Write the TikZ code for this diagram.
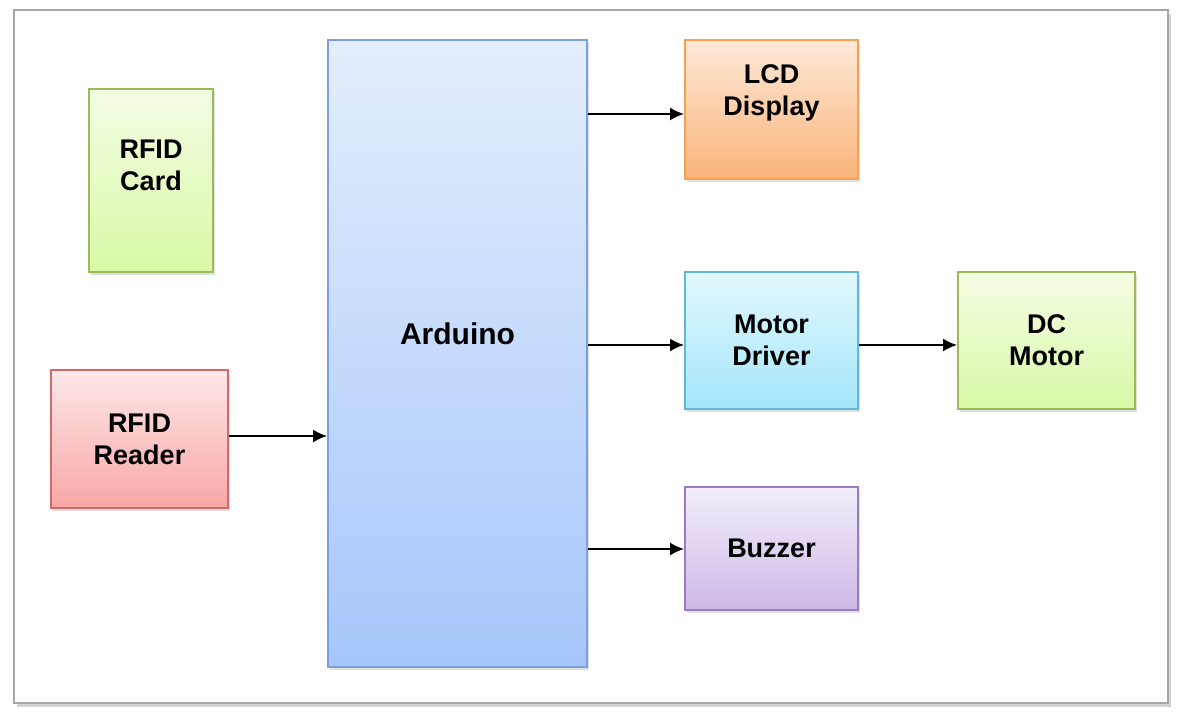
\documentclass[tikz,border=0pt]{standalone}
\usepackage{fontspec}
\setmainfont{Liberation Sans}
\usetikzlibrary{shapes.geometric, arrows, arrows.meta, shadows}

\definecolor{grnline}{HTML}{9BBB59}
\definecolor{grntop}{HTML}{F4FDE4}
\definecolor{grnbot}{HTML}{D9F8A6}
\definecolor{redline}{HTML}{D06A6A}
\definecolor{redtop}{HTML}{FDE8E8}
\definecolor{redbot}{HTML}{F8A6A6}
\definecolor{bluline}{HTML}{7BA0DA}
\definecolor{blutop}{HTML}{E4EEFC}
\definecolor{blubot}{HTML}{A6C6FA}
\definecolor{orgline}{HTML}{F7A050}
\definecolor{orgtop}{HTML}{FDE9D8}
\definecolor{orgbot}{HTML}{FAB47A}
\definecolor{cyaline}{HTML}{5EB8D6}
\definecolor{cyatop}{HTML}{E2F8FE}
\definecolor{cyabot}{HTML}{A4E6FA}
\definecolor{purline}{HTML}{9A7CC0}
\definecolor{purtop}{HTML}{F3EEFA}
\definecolor{purbot}{HTML}{CDB8E6}

\tikzset{
  block/.style={rectangle, draw, line width=1pt, align=center,
    font=\fontsize{13.5}{16}\selectfont\bfseries,
    drop shadow={shadow xshift=1.2pt, shadow yshift=-1.5pt, opacity=0.25}},
  lbl/.style={align=center, font=\fontsize{13.5}{16}\selectfont\bfseries},
  grn/.style={block, draw=grnline, top color=grntop, bottom color=grnbot},
  rd/.style={block, draw=redline, top color=redtop, bottom color=redbot},
  blu/.style={block, draw=bluline, top color=blutop, bottom color=blubot},
  org/.style={block, draw=orgline, top color=orgtop, bottom color=orgbot},
  cya/.style={block, draw=cyaline, top color=cyatop, bottom color=cyabot},
  pur/.style={block, draw=purline, top color=purtop, bottom color=purbot},
  link/.style={-{Latex[length=7pt, width=6.5pt]}, line width=0.8pt}
}

\begin{document}
\begin{tikzpicture}[x=0.5pt, y=-0.5pt]

\useasboundingbox (0,0) rectangle (1183,722);

%outer frame
\draw[gray!70, line width=1.2pt, fill=white,
  drop shadow={shadow xshift=1.5pt, shadow yshift=-2pt, opacity=0.35}]
  (14,10) rectangle (1168,703);

%blocks
\node[grn, minimum width=62pt, minimum height=91.5pt,
  label={[lbl, yshift=7.75pt]center:RFID\\Card}] (card) at (151,180.5) {};
\node[rd, minimum width=88.5pt, minimum height=69pt] (reader) at (139.5,439) {RFID\\Reader};
\node[blu, minimum width=129.5pt, minimum height=313.5pt,
  label={[lbl, font=\fontsize{15}{18}\selectfont\bfseries, yshift=10pt]center:Arduino}] (ard) at (457.5,353.5) {};
\node[org, minimum width=86.5pt, minimum height=69.5pt,
  label={[lbl, yshift=8.5pt]center:LCD\\Display}] (lcd) at (771.5,109.5) {};
\node[cya, minimum width=86.5pt, minimum height=68.5pt] (driver) at (771.5,340.5) {Motor\\Driver};
\node[grn, minimum width=88.5pt, minimum height=68.5pt] (motor) at (1046.5,340.5) {DC\\Motor};
\node[pur, minimum width=86.5pt, minimum height=61.5pt] (buzz) at (771.5,548.5) {Buzzer};

%connections
\draw[link] ([yshift=1.5pt]reader.east) -- ([yshift=1.5pt]reader.east -| ard.west);
\draw[link] ([yshift=-2.25pt]ard.east |- lcd.west) -- ([yshift=-2.25pt]lcd.west);
\draw[link] ([yshift=-2.25pt]ard.east |- driver.west) -- ([yshift=-2.25pt]driver.west);
\draw[link] ([yshift=-2.25pt]driver.east) -- ([yshift=-2.25pt]motor.west);
\draw[link] ([yshift=-0.25pt]ard.east |- buzz.west) -- ([yshift=-0.25pt]buzz.west);

\end{tikzpicture}
\end{document}
